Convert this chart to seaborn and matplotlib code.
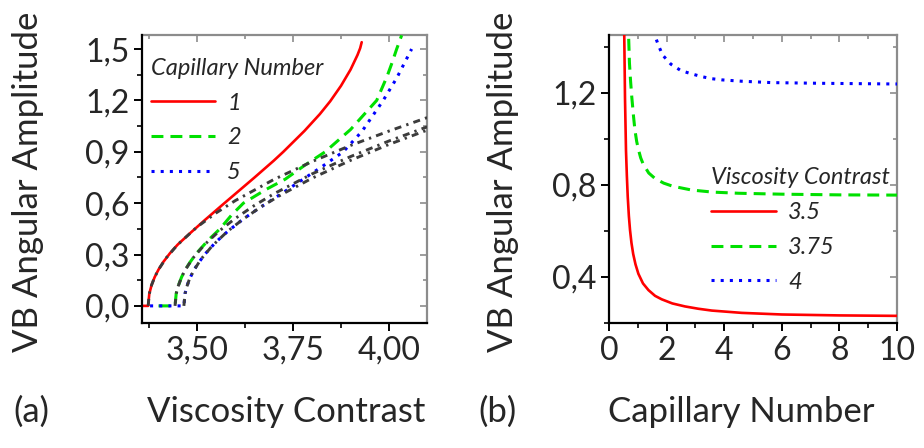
import matplotlib
matplotlib.use("Agg")
import matplotlib.pyplot as plt
import seaborn as sns
from matplotlib.ticker import FixedLocator, FuncFormatter, AutoMinorLocator

# ---------------- panel (a): amplitude vs viscosity contrast ----------------
ca_labels = ["1", "2", "5"]

lam_ca1 = [3.357, 3.373, 3.376, 3.382, 3.39, 3.40, 3.412, 3.43, 3.45, 3.48, 3.52,
           3.569, 3.65, 3.70, 3.725, 3.78, 3.82, 3.847, 3.875, 3.90, 3.918, 3.925,
           3.929]
amp_ca1 = [0.0, 0.0, 0.071, 0.122, 0.168, 0.212, 0.255, 0.308, 0.358, 0.42, 0.50,
           0.595, 0.75, 0.848, 0.90, 1.022, 1.12, 1.195, 1.285, 1.38, 1.465, 1.505,
           1.54]

lam_ca2 = [3.40, 3.443, 3.446, 3.45, 3.46, 3.47, 3.482, 3.50, 3.53, 3.56, 3.59,
           3.621, 3.68, 3.73, 3.78, 3.834, 3.90, 3.94, 3.968, 3.995, 4.008, 4.02,
           4.033]
amp_ca2 = [0.0, 0.0, 0.071, 0.108, 0.168, 0.212, 0.255, 0.31, 0.385, 0.45, 0.53,
           0.60, 0.68, 0.74, 0.82, 0.90, 1.03, 1.13, 1.20, 1.34, 1.42, 1.50, 1.58]

lam_ca5 = [3.378, 3.466, 3.469, 3.473, 3.48, 3.49, 3.50, 3.52, 3.55, 3.58, 3.62,
           3.65, 3.682, 3.73, 3.78, 3.83, 3.881, 3.93, 3.985, 4.02, 4.059]
amp_ca5 = [0.0, 0.0, 0.071, 0.108, 0.153, 0.20, 0.238, 0.30, 0.374, 0.435, 0.506,
           0.553, 0.60, 0.67, 0.745, 0.82, 0.90, 1.02, 1.20, 1.33, 1.50]

# square-root approximations near onset (dash-dot)
lam_fit1 = [3.373, 3.376, 3.382, 3.39, 3.40, 3.42, 3.45, 3.50, 3.55, 3.60, 3.70,
            3.80, 3.90, 4.00, 4.10]
amp_fit1 = [0.0, 0.071, 0.122, 0.168, 0.212, 0.280, 0.358, 0.460, 0.543, 0.615,
            0.738, 0.843, 0.937, 1.021, 1.100]
lam_fit2 = [3.443, 3.446, 3.45, 3.46, 3.47, 3.49, 3.52, 3.56, 3.60, 3.65, 3.70,
            3.80, 3.90, 4.00, 4.10]
amp_fit2 = [0.0, 0.071, 0.108, 0.168, 0.212, 0.280, 0.358, 0.441, 0.511, 0.587,
            0.654, 0.771, 0.872, 0.963, 1.046]
lam_fit3 = [3.466, 3.469, 3.473, 3.48, 3.49, 3.51, 3.54, 3.58, 3.62, 3.67, 3.72,
            3.80, 3.90, 4.00, 4.10]
amp_fit3 = [0.0, 0.071, 0.108, 0.153, 0.200, 0.271, 0.351, 0.436, 0.506, 0.583,
            0.650, 0.746, 0.850, 0.943, 1.027]

# ---------------- panel (b): amplitude vs capillary number ----------------
vc_labels = ["3.5", "3.75", "4"]

ca_vc35 = [0.51, 0.53, 0.556, 0.59, 0.62, 0.65, 0.69, 0.73, 0.78, 0.84, 0.92, 1.02,
           1.18, 1.37, 1.60, 1.83, 2.20, 2.64, 3.10, 3.57, 4.61, 6.0, 8.0, 10.0]
amp_vc35 = [1.80, 1.45, 1.175, 0.95, 0.84, 0.75, 0.665, 0.604, 0.548, 0.50, 0.455,
            0.414, 0.372, 0.343, 0.318, 0.303, 0.285, 0.272, 0.262, 0.254, 0.244,
            0.237, 0.233, 0.231]

ca_vc375 = [0.66, 0.68, 0.71, 0.75, 0.79, 0.85, 0.90, 0.96, 1.02, 1.10, 1.19, 1.38,
            1.60, 1.90, 2.20, 2.87, 3.6, 4.5, 6.0, 8.0, 10.0]
amp_vc375 = [1.60, 1.45, 1.33, 1.25, 1.184, 1.10, 1.039, 0.99, 0.955, 0.918, 0.89,
             0.852, 0.828, 0.808, 0.795, 0.778, 0.769, 0.764, 0.760, 0.757, 0.756]

ca_vc4 = [1.55, 1.60, 1.71, 1.86, 2.15, 2.50, 2.87, 3.22, 3.57, 3.91, 4.61, 5.65,
          7.38, 10.0]
amp_vc4 = [1.47, 1.448, 1.409, 1.365, 1.325, 1.297, 1.283, 1.271, 1.262, 1.257,
           1.251, 1.245, 1.242, 1.239]

# ---------------- styling ----------------
sns.set_style("ticks")
plt.rcParams["font.family"] = ["Lato", "DejaVu Sans"]

RED, GREEN, BLUE, DARK = "#ff0000", "#00e000", "#0000ff", "#3c3c3c"
GREY_FRAME = "#8c8c8c"
DASHED = (0, (3.9, 2.3))
DOTTED = (0, (1.0, 2.0))
DASHDOT = (0, (2.4, 1.8, 0.8, 1.8))
LW = 2.2

fig = plt.figure(figsize=(9.24, 4.48), dpi=100)
ax_a = fig.add_axes([142 / 924, 1 - 323 / 448, 285 / 924, 288 / 448])
ax_b = fig.add_axes([609 / 924, 1 - 323 / 448, 288 / 924, 288 / 448])


def comma(fmt):
    return FuncFormatter(lambda v, _: fmt.format(v).replace(".", ","))


def frame(ax, xticks, xfmt, yticks, yfmt):
    ax.xaxis.set_major_locator(FixedLocator(xticks))
    ax.yaxis.set_major_locator(FixedLocator(yticks))
    ax.xaxis.set_major_formatter(xfmt)
    ax.yaxis.set_major_formatter(yfmt)
    ax.xaxis.set_minor_locator(AutoMinorLocator(2))
    ax.yaxis.set_minor_locator(AutoMinorLocator(2))
    ax.tick_params(which="major", length=6, width=1.4, color="black",
                   labelsize=23, pad=3, direction="out")
    ax.tick_params(which="minor", length=3.5, width=1.2, color="black",
                   direction="out")
    for side in ("left", "bottom"):
        ax.spines[side].set_color("black")
        ax.spines[side].set_linewidth(1.6)
    for side in ("top", "right"):
        ax.spines[side].set_visible(False)
    # inward grey ticks on the opposite sides
    top = ax.secondary_xaxis("top")
    top.xaxis.set_major_locator(FixedLocator(xticks))
    top.xaxis.set_minor_locator(AutoMinorLocator(2))
    top.tick_params(which="both", direction="in", color=GREY_FRAME, labeltop=False,
                    width=1.2)
    top.tick_params(which="major", length=5)
    top.tick_params(which="minor", length=3)
    top.spines["top"].set_color(GREY_FRAME)
    top.spines["top"].set_linewidth(1.6)
    right = ax.secondary_yaxis("right")
    right.yaxis.set_major_locator(FixedLocator(yticks))
    right.yaxis.set_minor_locator(AutoMinorLocator(2))
    right.tick_params(which="both", direction="in", color=GREY_FRAME,
                      labelright=False, width=1.2)
    right.tick_params(which="major", length=5)
    right.tick_params(which="minor", length=3)
    right.spines["right"].set_color(GREY_FRAME)
    right.spines["right"].set_linewidth(1.6)


# panel (a) curves
for lam, amp, col, ls, lw, lab in [
    (lam_ca1, amp_ca1, RED, "-", 1.9, ca_labels[0]),
    (lam_ca2, amp_ca2, GREEN, DASHED, LW, ca_labels[1]),
    (lam_ca5, amp_ca5, BLUE, DOTTED, LW, ca_labels[2]),
]:
    sns.lineplot(x=lam, y=amp, ax=ax_a, color=col, linestyle=ls, linewidth=lw,
                 sort=False, estimator=None, label=lab)
for lam, amp in [(lam_fit1, amp_fit1), (lam_fit2, amp_fit2), (lam_fit3, amp_fit3)]:
    sns.lineplot(x=lam, y=amp, ax=ax_a, color=DARK, linestyle=DASHDOT, linewidth=2.1,
                 sort=False, estimator=None, label="_nolegend_")

ax_a.set_xlim(3.357, 4.099)
ax_a.set_ylim(-0.10, 1.582)
frame(ax_a, [3.5, 3.75, 4.0], comma("{:.2f}"), [0.0, 0.3, 0.6, 0.9, 1.2, 1.5],
      comma("{:.1f}"))

# panel (b) curves
for ca, amp, col, ls, lw, lab in [
    (ca_vc35, amp_vc35, RED, "-", 1.9, vc_labels[0]),
    (ca_vc375, amp_vc375, GREEN, DASHED, LW, vc_labels[1]),
    (ca_vc4, amp_vc4, BLUE, DOTTED, LW, vc_labels[2]),
]:
    sns.lineplot(x=ca, y=amp, ax=ax_b, color=col, linestyle=ls, linewidth=lw,
                 sort=False, estimator=None, label=lab)

ax_b.set_xlim(0, 10)
ax_b.set_ylim(0.2, 1.452)
frame(ax_b, [0, 2, 4, 6, 8, 10], FuncFormatter(lambda v, _: f"{v:.0f}"),
      [0.4, 0.8, 1.2], comma("{:.1f}"))

# legends
leg_kw = dict(frameon=False, fontsize=17, title_fontsize=17, handlelength=2.75,
              handletextpad=0.5, labelspacing=0.58, borderpad=0, borderaxespad=0,
              alignment="left", loc="upper left")
leg_a = ax_a.legend(title="Capillary Number", bbox_to_anchor=(0.03, 0.92), **leg_kw)
leg_b = ax_b.legend(title="Viscosity Contrast", bbox_to_anchor=(0.355, 0.54), **leg_kw)
for leg in (leg_a, leg_b):
    leg.get_title().set_fontstyle("italic")
    for t in leg.get_texts():
        t.set_fontstyle("italic")

# axis titles
for ax, ylab_x in [(ax_a, -0.40), (ax_b, -0.368)]:
    ax.set_ylabel("VB Angular Amplitude", fontsize=25)
    ax.yaxis.set_label_coords(ylab_x, 0.49)
    ax.yaxis.label.set_verticalalignment("center")
    ax.set_xlabel("")

fig.text(286 / 924, 1 - 412 / 448, "Viscosity Contrast", fontsize=25,
         ha="center", va="center")
fig.text(741 / 924, 1 - 412 / 448, "Capillary Number", fontsize=25,
         ha="center", va="center")
fig.text(31 / 924, 1 - 412 / 448, "(a)", fontsize=25, ha="center", va="center")
fig.text(498 / 924, 1 - 412 / 448, "(b)", fontsize=25, ha="center", va="center")

fig.savefig("out.png", dpi=100)
